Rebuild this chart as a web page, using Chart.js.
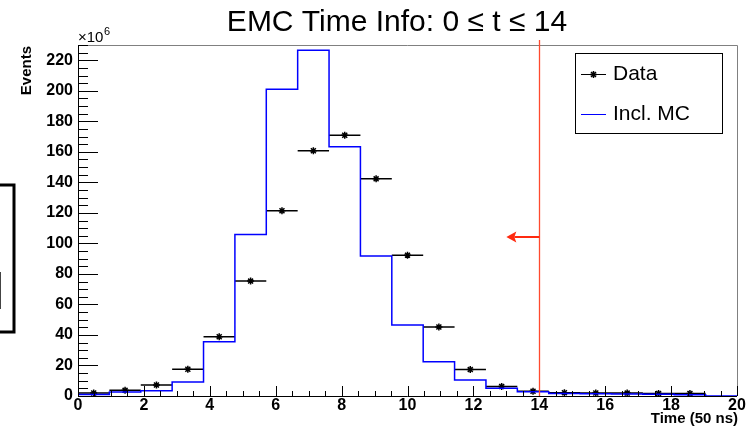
<!DOCTYPE html>
<html>
<head>
<meta charset="utf-8">
<script src="https://cdn.jsdelivr.net/npm/chart.js@4.4.1/dist/chart.umd.min.js"></script>
<style>
  html, body { margin: 0; padding: 0; background: #fff; }
  #wrap { width: 755px; height: 435px; }
</style>
</head>
<body>
<div id="wrap"><canvas id="emc"></canvas></div>
<script>
// EMC time spectrum: 21 equal bins over 0..20 (units of 50 ns), counts in 10^6
const xMin = 0;
const xMax = 20;
const yMax = 230;
const mcCounts = [1.0, 2.6, 3.5, 9.2, 35.6, 105.9, 201.0, 226.6, 163.3, 91.7, 46.5, 22.5, 10.5, 5.0, 2.8, 1.7, 1.5, 1.3, 1.1, 0.8, 0.0];
const dataCounts = [2.0, 3.7, 7.2, 17.5, 38.8, 75.3, 121.4, 160.7, 170.9, 142.3, 92.3, 45.2, 17.3, 6.3, 3.1, 2.2, 2.0, 1.9, 1.7, 1.7, null];
const xTicks = [0, 2, 4, 6, 8, 10, 12, 14, 16, 18, 20];
const yTicks = [0, 20, 40, 60, 80, 100, 120, 140, 160, 180, 200, 220];
const timeCut = 14;
const arrowLevel = 104;
const legendLabels = ["Data", "Incl. MC"];

const binWidth = (xMax - xMin) / mcCounts.length;
const binLow = (i) => xMin + i * binWidth;

// MC histogram as a stepped line through the left bin edges
const mcPoints = mcCounts.map((v, i) => ({ x: binLow(i), y: v }));
mcPoints.push({ x: xMax, y: mcCounts[mcCounts.length - 1] });

// data: markers at bin centres, horizontal bars spanning each bin
const dataPoints = [];
const dataBars = [];
dataCounts.forEach((v, i) => {
  if (v === null) return;
  dataPoints.push({ x: binLow(i) + binWidth / 2, y: v });
  dataBars.push({ x: binLow(i), y: v }, { x: binLow(i + 1), y: v }, { x: binLow(i + 1), y: null });
});

const font = "'Liberation Sans', Arial, sans-serif";

const rootStyle = {
  id: "rootStyle",
  afterDraw(chart) {
    const { ctx, chartArea: a, scales: { x, y } } = chart;
    ctx.save();

    // frame: black axes, grey top/right
    ctx.lineWidth = 1;
    ctx.strokeStyle = "#808080";
    ctx.beginPath();
    ctx.moveTo(a.left, a.top + 0.5);
    ctx.lineTo(a.right + 0.5, a.top + 0.5);
    ctx.lineTo(a.right + 0.5, a.bottom);
    ctx.stroke();
    ctx.strokeStyle = "#000";
    ctx.beginPath();
    ctx.moveTo(a.left + 0.5, a.top);
    ctx.lineTo(a.left + 0.5, a.bottom + 0.5);
    ctx.lineTo(a.right, a.bottom + 0.5);
    ctx.stroke();

    // inward ticks
    ctx.beginPath();
    for (let v = 0; v <= yMax; v += 5) {
      const py = Math.round(y.getPixelForValue(v)) + 0.5;
      const len = v % 20 === 0 ? 20 : 10;
      ctx.moveTo(a.left, py);
      ctx.lineTo(a.left + len, py);
    }
    for (let v = xMin; v <= xMax; v += 0.5) {
      const px = Math.round(x.getPixelForValue(v)) + 0.5;
      const len = v % 2 === 0 ? 10 : 5;
      ctx.moveTo(px, a.bottom);
      ctx.lineTo(px, a.bottom - len);
    }
    ctx.stroke();

    // time cut and arrow
    const cx = Math.round(x.getPixelForValue(timeCut)) + 0.5;
    ctx.strokeStyle = "#ff4a2e";
    ctx.lineWidth = 1.3;
    ctx.beginPath();
    ctx.moveTo(cx, a.top - 5);
    ctx.lineTo(cx, a.bottom);
    ctx.stroke();
    const ay = Math.round(y.getPixelForValue(arrowLevel));
    const tip = x.getPixelForValue(timeCut - 1);
    ctx.strokeStyle = "#ff2a10";
    ctx.fillStyle = "#ff2a10";
    ctx.lineWidth = 2;
    ctx.beginPath();
    ctx.moveTo(cx, ay);
    ctx.lineTo(tip + 8, ay);
    ctx.stroke();
    ctx.beginPath();
    ctx.moveTo(tip, ay);
    ctx.lineTo(tip + 10, ay - 5.5);
    ctx.lineTo(tip + 8, ay);
    ctx.lineTo(tip + 10, ay + 5.5);
    ctx.closePath();
    ctx.fill();

    // title
    ctx.fillStyle = "#000";
    ctx.font = "30px " + font;
    ctx.textAlign = "center";
    ctx.textBaseline = "alphabetic";
    ctx.fillText("EMC Time Info: 0 \u2264 t \u2264 14", 397, 31);

    // axis titles
    ctx.font = "bold 15px " + font;
    ctx.textAlign = "right";
    ctx.fillText("Time (50 ns)", a.right + 1, 423);
    ctx.save();
    ctx.translate(27, a.top + 1);
    ctx.rotate(-Math.PI / 2);
    ctx.textBaseline = "middle";
    ctx.fillText("Events", 0, 0);
    ctx.restore();

    // exponent
    ctx.textAlign = "left";
    ctx.font = "15px " + font;
    ctx.fillText("\u00d710", a.left, 42);
    ctx.font = "11px " + font;
    ctx.fillText("6", a.left + 26, 35);

    // legend
    const lx = 575, ly = 53, lw = 147, lh = 80;
    ctx.fillStyle = "#fff";
    ctx.fillRect(lx, ly, lw, lh);
    ctx.strokeStyle = "#000";
    ctx.lineWidth = 1;
    ctx.strokeRect(lx + 0.5, ly + 0.5, lw, lh);
    ctx.font = "21px " + font;
    ctx.fillStyle = "#000";
    ctx.textBaseline = "middle";
    ctx.fillText(legendLabels[0], 613, 74);
    ctx.fillText(legendLabels[1], 613, 114);
    ctx.beginPath();
    ctx.moveTo(581, 74.5);
    ctx.lineTo(606, 74.5);
    ctx.stroke();
    ctx.strokeStyle = "#0000ff";
    ctx.beginPath();
    ctx.moveTo(581, 114.5);
    ctx.lineTo(606, 114.5);
    ctx.stroke();
    ctx.strokeStyle = "#000";
    ctx.lineWidth = 1.5;
    ctx.beginPath();
    for (let k = 0; k < 4; k++) {
      const ang = k * Math.PI / 4;
      ctx.moveTo(593.5 - 3.5 * Math.cos(ang), 74.5 - 3.5 * Math.sin(ang));
      ctx.lineTo(593.5 + 3.5 * Math.cos(ang), 74.5 + 3.5 * Math.sin(ang));
    }
    ctx.stroke();

    // leftover frame at the left edge of the canvas
    ctx.strokeStyle = "#000";
    ctx.lineWidth = 3;
    ctx.beginPath();
    ctx.moveTo(0, 185);
    ctx.lineTo(14, 185);
    ctx.lineTo(14, 332);
    ctx.lineTo(0, 332);
    ctx.stroke();
    ctx.lineWidth = 1;
    ctx.strokeStyle = "#444";
    ctx.beginPath();
    ctx.moveTo(0.5, 272);
    ctx.lineTo(0.5, 309);
    ctx.stroke();

    ctx.restore();
  }
};

let chart = new Chart(document.getElementById("emc"), {
  data: {
    datasets: [
      {
        type: "line",
        label: legendLabels[1],
        data: mcPoints,
        stepped: "before",
        borderColor: "#0000ff",
        borderWidth: 1.5,
        pointRadius: 0,
        fill: false,
      },
      {
        type: "line",
        label: legendLabels[0] + " bins",
        data: dataBars,
        borderColor: "#000",
        borderWidth: 1.5,
        pointRadius: 0,
        spanGaps: false,
        fill: false,
      },
      {
        type: "scatter",
        label: legendLabels[0],
        data: dataPoints,
        pointStyle: "star",
        pointRadius: 3.5,
        borderColor: "#000",
        backgroundColor: "#000",
        borderWidth: 1.5,
      },
    ],
  },
  options: {
    responsive: true,
    maintainAspectRatio: false,
    animation: false,
    layout: { padding: { left: 0, right: 18, top: 45, bottom: 0 } },
    plugins: {
      legend: { display: false },
      title: { display: false },
      tooltip: { enabled: false },
    },
    scales: {
      x: {
        type: "linear",
        min: xMin,
        max: xMax,
        grid: { display: false, drawTicks: false },
        border: { display: false },
        afterBuildTicks: (axis) => {
          axis.ticks = xTicks.map((v) => ({ value: v }));
        },
        afterFit: (axis) => {
          axis.height = 39;
        },
        ticks: {
          autoSkip: false,
          maxRotation: 0,
          padding: 0,
          color: "#000",
          font: { family: font, size: 16, weight: "bold" },
        },
      },
      y: {
        type: "linear",
        min: 0,
        max: yMax,
        grid: { display: false, drawTicks: false },
        border: { display: false },
        afterBuildTicks: (axis) => {
          axis.ticks = yTicks.map((v) => ({ value: v }));
        },
        afterFit: (axis) => {
          axis.width = 78;
        },
        ticks: {
          autoSkip: false,
          padding: 5,
          color: "#000",
          font: { family: font, size: 16, weight: "bold" },
        },
      },
    },
  },
  plugins: [rootStyle],
});
</script>
</body>
</html>
